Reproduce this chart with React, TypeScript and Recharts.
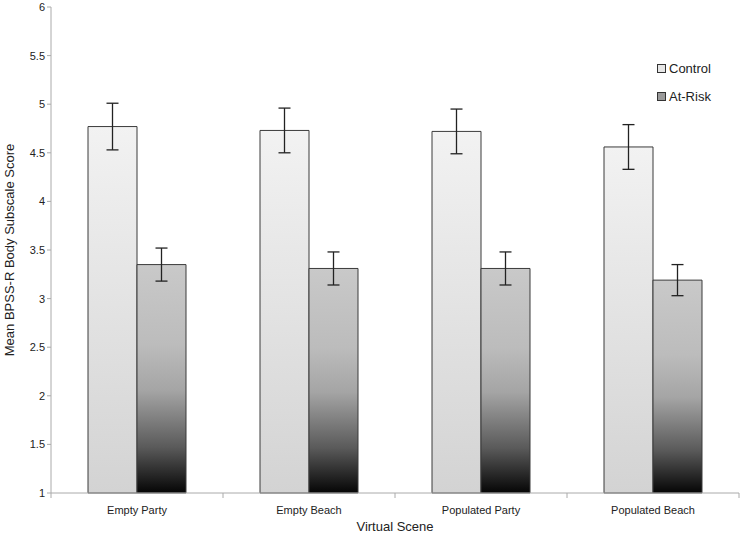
import React from 'react';
import { BarChart, Bar, XAxis, YAxis, ErrorBar } from 'recharts';

const scenes = ['Empty Party', 'Empty Beach', 'Populated Party', 'Populated Beach'];
const controlMeans = [4.77, 4.73, 4.72, 4.56];
const controlErr = [0.24, 0.23, 0.23, 0.23];
const atRiskMeans = [3.35, 3.31, 3.31, 3.19];
const atRiskErr = [0.17, 0.17, 0.17, 0.16];
const yTicks = [1, 1.5, 2, 2.5, 3, 3.5, 4, 4.5, 5, 5.5, 6];
const seriesNames = ['Control', 'At-Risk'];

const data = scenes.map((scene, i) => ({
  scene,
  control: controlMeans[i],
  controlErr: controlErr[i],
  atRisk: atRiskMeans[i],
  atRiskErr: atRiskErr[i],
}));

const FONT = '"Liberation Sans", Arial, sans-serif';
const halfBand = 688 / scenes.length / 2;

const SceneTick = (props: any) => {
  const { x, y, payload, index } = props;
  return (
    <g>
      <line x1={x - halfBand} y1={y - 8} x2={x - halfBand} y2={y - 3} stroke="#aaa" />
      {index === scenes.length - 1 && (
        <line x1={x + halfBand} y1={y - 8} x2={x + halfBand} y2={y - 3} stroke="#aaa" />
      )}
      <text x={x} y={y + 13} textAnchor="middle" fontSize={11} fill="#222" fontFamily={FONT}>
        {payload.value}
      </text>
    </g>
  );
};

const legendFills = ['#e6e6e6', '#9a9a9a'];

export default function App() {
  return (
    <div style={{ position: 'absolute', left: 0, top: 0, width: 740, height: 541, background: '#fff' }}>
      <BarChart
        width={740}
        height={541}
        data={data}
        margin={{ top: 7, right: 1, bottom: 0, left: 10 }}
        barCategoryGap={37}
        barGap={0}
      >
        <defs>
          <linearGradient id="ctrlGrad" x1="0" y1="0" x2="0" y2="1">
            <stop offset="0" stopColor="#f2f2f2" />
            <stop offset="1" stopColor="#d3d3d3" />
          </linearGradient>
          <linearGradient id="riskGrad" x1="0" y1="0" x2="0" y2="1">
            <stop offset="0" stopColor="#c9c9c9" />
            <stop offset="0.35" stopColor="#bcbcbc" />
            <stop offset="0.55" stopColor="#a5a5a5" />
            <stop offset="0.8" stopColor="#5a5a5a" />
            <stop offset="1" stopColor="#050505" />
          </linearGradient>
        </defs>
        <XAxis
          dataKey="scene"
          height={48}
          stroke="#aaa"
          tickLine={false}
          tick={<SceneTick />}
          label={{ value: 'Virtual Scene', position: 'insideBottom', offset: 10, fontSize: 13, fill: '#222', fontFamily: FONT }}
        />
        <YAxis
          domain={[1, 6]}
          ticks={yTicks}
          width={41}
          stroke="#aaa"
          tickSize={4}
          tick={{ fontSize: 11, fill: '#222', fontFamily: FONT }}
          label={{
            value: 'Mean BPSS-R Body Subscale Score',
            angle: -90,
            position: 'insideLeft',
            dx: -6,
            style: { textAnchor: 'middle', fontSize: 13, fill: '#222', fontFamily: FONT },
          }}
        />
        <Bar dataKey="control" name="Control" fill="url(#ctrlGrad)" stroke="#3a3a3a" strokeWidth={1} barSize={49} isAnimationActive={false}>
          <ErrorBar dataKey="controlErr" width={6} stroke="#222" strokeWidth={1.3} />
        </Bar>
        <Bar dataKey="atRisk" name="At-Risk" fill="url(#riskGrad)" stroke="#3a3a3a" strokeWidth={1} barSize={49} isAnimationActive={false}>
          <ErrorBar dataKey="atRiskErr" width={6} stroke="#222" strokeWidth={1.3} />
        </Bar>
      </BarChart>
      <div style={{ position: 'absolute', left: 657, top: 54, fontFamily: FONT, fontSize: 13, color: '#222' }}>
        {seriesNames.map((name, i) => (
          <div key={name} style={{ display: 'flex', alignItems: 'center', height: 28 }}>
            <span
              style={{
                display: 'inline-block',
                width: 7,
                height: 7,
                border: '1px solid #333',
                background: legendFills[i],
                marginRight: 3,
              }}
            />
            {name}
          </div>
        ))}
      </div>
    </div>
  );
}
